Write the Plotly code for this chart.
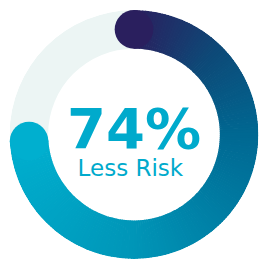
import plotly.graph_objects as go

percent = 74
label_value = "74%"
label_text = "Less Risk"

# gradient stops (fraction of arc, colour)
grad_stops = [(0.0, "#2a1f5e"), (0.17, "#0d4a78"), (0.34, "#006892"), (0.68, "#0096b8"), (1.0, "#00afcf")]
track_color = "#ecf5f4"

def hex2rgb(h):
    h = h.lstrip("#")
    return [int(h[i:i + 2], 16) for i in (0, 2, 4)]

def color_at(f):
    for (f0, c0), (f1, c1) in zip(grad_stops[:-1], grad_stops[1:]):
        if f0 <= f <= f1:
            t = (f - f0) / (f1 - f0) if f1 > f0 else 0
            a, b = hex2rgb(c0), hex2rgb(c1)
            return "rgb(%d,%d,%d)" % tuple(round(a[i] + (b[i] - a[i]) * t) for i in range(3))
    return grad_stops[-1][1]

inner = 0.69
thick = 1 - inner
arc_deg = percent / 100 * 360
n = 200
seg = arc_deg / n
thetas = [seg * (i + 0.5) for i in range(n)]
cols = [color_at((i + 0.5) / n) for i in range(n)]

fig = go.Figure()
fig.add_trace(go.Barpolar(r=[thick], theta=[180], width=[360], base=[inner],
                          marker=dict(color=track_color, line=dict(width=0)), hoverinfo="skip"))
fig.add_trace(go.Barpolar(r=[thick] * n, theta=thetas, width=[seg * 1.3] * n, base=[inner] * n,
                          marker=dict(color=cols, line=dict(width=0)), hoverinfo="skip"))

dom_x = [0.0367, 0.998]
dom_y = [0.0, 0.961]
radius_px = (dom_x[1] - dom_x[0]) * 259 / 2
cap_size = thick * radius_px
fig.add_trace(go.Scatterpolar(r=[inner + thick / 2] * 2, theta=[0, arc_deg], mode="markers",
                              marker=dict(size=cap_size, color=[color_at(0), color_at(1)], line=dict(width=0)),
                              hoverinfo="skip"))

center_text = ("<span style='font-size:56px'><b>%s</b></span><br>"
               "<span style='font-size:23px'>%s\u00a0</span>") % (label_value, label_text)

fig.update_layout(
    width=259, height=259, margin=dict(l=0, r=0, t=0, b=0),
    paper_bgcolor="white", showlegend=False,
    polar=dict(domain=dict(x=dom_x, y=dom_y), bgcolor="white",
               radialaxis=dict(visible=False, range=[0, 1]),
               angularaxis=dict(visible=False, rotation=90, direction="clockwise"),
               bargap=0),
    annotations=[
        dict(text=center_text, x=134 / 259, y=1 - 95 / 259, xref="paper", yref="paper",
             showarrow=False, xanchor="center", yanchor="top", align="center", borderpad=0,
             font=dict(family="DejaVu Sans", size=21.5, color="#00aacc")),
    ],
)
fig.write_html("out.html", config={"displayModeBar": False, "staticPlot": True},
               post_script="document.body.style.margin='0';document.body.style.overflow='hidden';")
